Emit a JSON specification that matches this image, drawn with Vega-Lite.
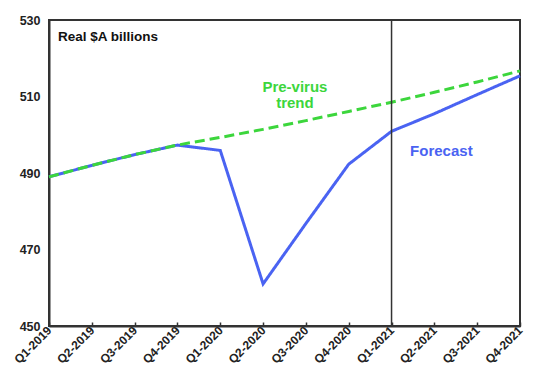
{
  "$schema": "https://vega.github.io/schema/vega-lite/v6.json",
  "width": 471,
  "height": 306,
  "autosize": {"type": "none"},
  "padding": {"left": 49, "top": 20, "right": 28, "bottom": 60},
  "background": "white",
  "config": {
    "font": "Liberation Sans",
    "view": {"stroke": "#333333", "strokeWidth": 2},
    "axisX": {
      "labelAngle": -45,
      "labelAlign": "right",
      "labelBaseline": "middle",
      "labelFontSize": 12,
      "labelFontWeight": "bold",
      "labelColor": "#222222",
      "labelPadding": 6,
      "labelOverlap": false,
      "labelBound": false,
      "tickSize": -4,
      "tickColor": "#333333",
      "tickWidth": 1.5,
      "domainColor": "#333333",
      "domainWidth": 2,
      "grid": false
    }
  },
  "datasets": {
    "series": [
      {"quarter": "Q1-2019", "series": "Actual/Forecast", "value": 489.0},
      {"quarter": "Q2-2019", "series": "Actual/Forecast", "value": 492.0},
      {"quarter": "Q3-2019", "series": "Actual/Forecast", "value": 494.8},
      {"quarter": "Q4-2019", "series": "Actual/Forecast", "value": 497.3},
      {"quarter": "Q1-2020", "series": "Actual/Forecast", "value": 495.9},
      {"quarter": "Q2-2020", "series": "Actual/Forecast", "value": 461.0},
      {"quarter": "Q3-2020", "series": "Actual/Forecast", "value": 476.8},
      {"quarter": "Q4-2020", "series": "Actual/Forecast", "value": 492.3},
      {"quarter": "Q1-2021", "series": "Actual/Forecast", "value": 500.9},
      {"quarter": "Q2-2021", "series": "Actual/Forecast", "value": 505.5},
      {"quarter": "Q3-2021", "series": "Actual/Forecast", "value": 510.5},
      {"quarter": "Q4-2021", "series": "Actual/Forecast", "value": 515.4},
      {"quarter": "Q1-2019", "series": "Pre-virus trend", "value": 489.0},
      {"quarter": "Q2-2019", "series": "Pre-virus trend", "value": 492.0},
      {"quarter": "Q3-2019", "series": "Pre-virus trend", "value": 494.8},
      {"quarter": "Q4-2019", "series": "Pre-virus trend", "value": 497.3},
      {"quarter": "Q1-2020", "series": "Pre-virus trend", "value": 499.3},
      {"quarter": "Q2-2020", "series": "Pre-virus trend", "value": 501.4},
      {"quarter": "Q3-2020", "series": "Pre-virus trend", "value": 503.7},
      {"quarter": "Q4-2020", "series": "Pre-virus trend", "value": 506.1},
      {"quarter": "Q1-2021", "series": "Pre-virus trend", "value": 508.5},
      {"quarter": "Q2-2021", "series": "Pre-virus trend", "value": 511.1},
      {"quarter": "Q3-2021", "series": "Pre-virus trend", "value": 513.8},
      {"quarter": "Q4-2021", "series": "Pre-virus trend", "value": 516.7}
    ]
  },
  "layer": [
    {
      "data": {"name": "series"},
      "mark": {"type": "line", "strokeWidth": 3},
      "encoding": {
        "x": {
          "field": "quarter",
          "type": "ordinal",
          "sort": null,
          "scale": {"type": "point", "padding": 0, "domain": ["Q1-2019","Q2-2019","Q3-2019","Q4-2019","Q1-2020","Q2-2020","Q3-2020","Q4-2020","Q1-2021","Q2-2021","Q3-2021","Q4-2021"]},
          "axis": {"title": null, "labelAngle": -45}
        },
        "y": {
          "field": "value",
          "type": "quantitative",
          "scale": {"domain": [450, 530], "nice": false, "zero": false},
          "axis": {
            "title": null,
            "values": [450, 470, 490, 510, 530],
            "labelFontSize": 12.5,
            "labelFontWeight": "bold",
            "labelColor": "#222222",
            "labelPadding": 9,
            "ticks": false,
            "grid": false,
            "domainColor": "#333333",
            "domainWidth": 2
          }
        },
        "color": {
          "field": "series",
          "type": "nominal",
          "scale": {"domain": ["Actual/Forecast", "Pre-virus trend"], "range": ["#4a63f2", "#3cd63c"]},
          "legend": null
        },
        "strokeDash": {
          "field": "series",
          "type": "nominal",
          "scale": {"domain": ["Actual/Forecast", "Pre-virus trend"], "range": [[1, 0], [10, 5]]},
          "legend": null
        },
        "strokeWidth": {
          "field": "series",
          "type": "nominal",
          "scale": {"domain": ["Actual/Forecast", "Pre-virus trend"], "range": [3, 3.5]},
          "legend": null
        }
      }
    },
    {
      "data": {"values": [{"quarter": "Q1-2021"}]},
      "mark": {"type": "rule", "color": "#333333", "strokeWidth": 1.5},
      "encoding": {
        "x": {"field": "quarter", "type": "ordinal", "axis": {"title": null, "labelAngle": -45}}
      }
    },
    {
      "data": {"values": [{"quarter": "Q1-2019", "value": 525.6, "label": "Real $A billions"}]},
      "mark": {"type": "text", "align": "left", "baseline": "middle", "fontSize": 13.5, "fontWeight": "bold", "color": "#111111", "dx": 9},
      "encoding": {
        "x": {"field": "quarter", "type": "ordinal", "axis": {"title": null, "labelAngle": -45}},
        "y": {"field": "value", "type": "quantitative"},
        "text": {"field": "label"}
      }
    },
    {
      "data": {"values": [{"quarter": "Q3-2020", "value": 512.5, "label": "Pre-virus\ntrend"}]},
      "mark": {"type": "text", "align": "center", "baseline": "middle", "fontSize": 15, "fontWeight": "bold", "color": "#3cd63c", "dx": -11, "lineBreak": "\n", "lineHeight": 16},
      "encoding": {
        "x": {"field": "quarter", "type": "ordinal", "axis": {"title": null, "labelAngle": -45}},
        "y": {"field": "value", "type": "quantitative"},
        "text": {"field": "label"}
      }
    },
    {
      "data": {"values": [{"quarter": "Q2-2021", "value": 495.8, "label": "Forecast"}]},
      "mark": {"type": "text", "align": "center", "baseline": "middle", "fontSize": 15, "fontWeight": "bold", "color": "#4a63f2", "dx": 7},
      "encoding": {
        "x": {"field": "quarter", "type": "ordinal", "axis": {"title": null, "labelAngle": -45}},
        "y": {"field": "value", "type": "quantitative"},
        "text": {"field": "label"}
      }
    }
  ]
}
